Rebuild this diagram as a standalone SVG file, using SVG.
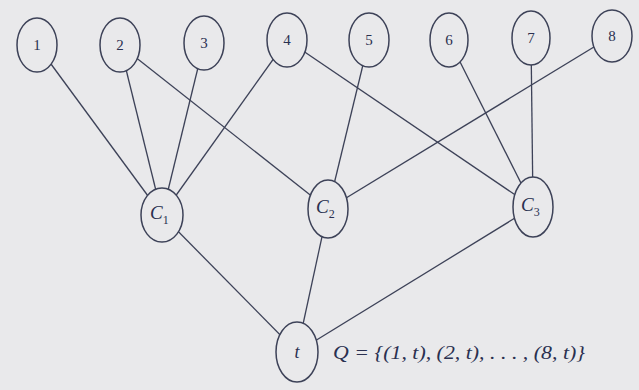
<svg xmlns="http://www.w3.org/2000/svg" width="639" height="390" viewBox="0 0 639 390">
<style>
.e{stroke:#3d4258;stroke-width:1.3;fill:none}
.n{stroke:#3d4258;stroke-width:1.5;fill:#e9e9eb}
.t{font-family:"Liberation Serif",serif;font-size:15px;fill:#2a3050;text-anchor:middle;dominant-baseline:central}
.c{font-family:"Liberation Serif",serif;font-size:19px;font-style:italic;fill:#2a3050}
.s{font-size:12px;font-style:normal}
</style>
<rect width="639" height="390" fill="#e9e9eb"/>
<g id="connectors">
<line class="e" x1="37" y1="45" x2="162" y2="215"/>
<line class="e" x1="120" y1="45" x2="162" y2="215"/>
<line class="e" x1="120" y1="45" x2="328" y2="209"/>
<line class="e" x1="204" y1="43" x2="162" y2="215"/>
<line class="e" x1="287" y1="40" x2="162" y2="215"/>
<line class="e" x1="287" y1="40" x2="533" y2="207"/>
<line class="e" x1="369" y1="40" x2="328" y2="209"/>
<line class="e" x1="449" y1="40" x2="533" y2="207"/>
<line class="e" x1="531" y1="38" x2="533" y2="207"/>
<line class="e" x1="612" y1="36" x2="328" y2="209"/>
<line class="e" x1="162" y1="215" x2="297" y2="352"/>
<line class="e" x1="328" y1="209" x2="297" y2="352"/>
<line class="e" x1="533" y1="207" x2="297" y2="352"/>
</g>
<g id="n1"><ellipse class="n" cx="37" cy="45" rx="20" ry="27"/><text class="t" x="37" y="45">1</text></g>
<g id="n2"><ellipse class="n" cx="120" cy="45" rx="20" ry="27"/><text class="t" x="120" y="45">2</text></g>
<g id="n3"><ellipse class="n" cx="204" cy="43" rx="20" ry="27"/><text class="t" x="204" y="43">3</text></g>
<g id="n4"><ellipse class="n" cx="287" cy="40" rx="20" ry="27"/><text class="t" x="287" y="40">4</text></g>
<g id="n5"><ellipse class="n" cx="369" cy="40" rx="20" ry="27"/><text class="t" x="369" y="40">5</text></g>
<g id="n6"><ellipse class="n" cx="449" cy="40" rx="19" ry="27"/><text class="t" x="449" y="40">6</text></g>
<g id="n7"><ellipse class="n" cx="531" cy="38" rx="19" ry="27"/><text class="t" x="531" y="38">7</text></g>
<g id="n8"><ellipse class="n" cx="612" cy="36" rx="20" ry="26"/><text class="t" x="612" y="36">8</text></g>
<g id="C1"><ellipse class="n" cx="162" cy="215" rx="21" ry="27"/><text class="c" x="150" y="219">C<tspan class="s" dy="5">1</tspan></text></g>
<g id="C2"><ellipse class="n" cx="328" cy="209" rx="20" ry="29"/><text class="c" x="316" y="213">C<tspan class="s" dy="5">2</tspan></text></g>
<g id="C3"><ellipse class="n" cx="533" cy="207" rx="20" ry="30"/><text class="c" x="521" y="211">C<tspan class="s" dy="5">3</tspan></text></g>
<g id="t"><ellipse class="n" cx="297" cy="352" rx="21" ry="30"/><text class="t" x="297" y="352" style="font-style:italic;font-size:18px">t</text></g>
<text class="c" x="333" y="359" textLength="252" lengthAdjust="spacingAndGlyphs">Q = {(1, t), (2, t), . . . , (8, t)}</text>
</svg>
